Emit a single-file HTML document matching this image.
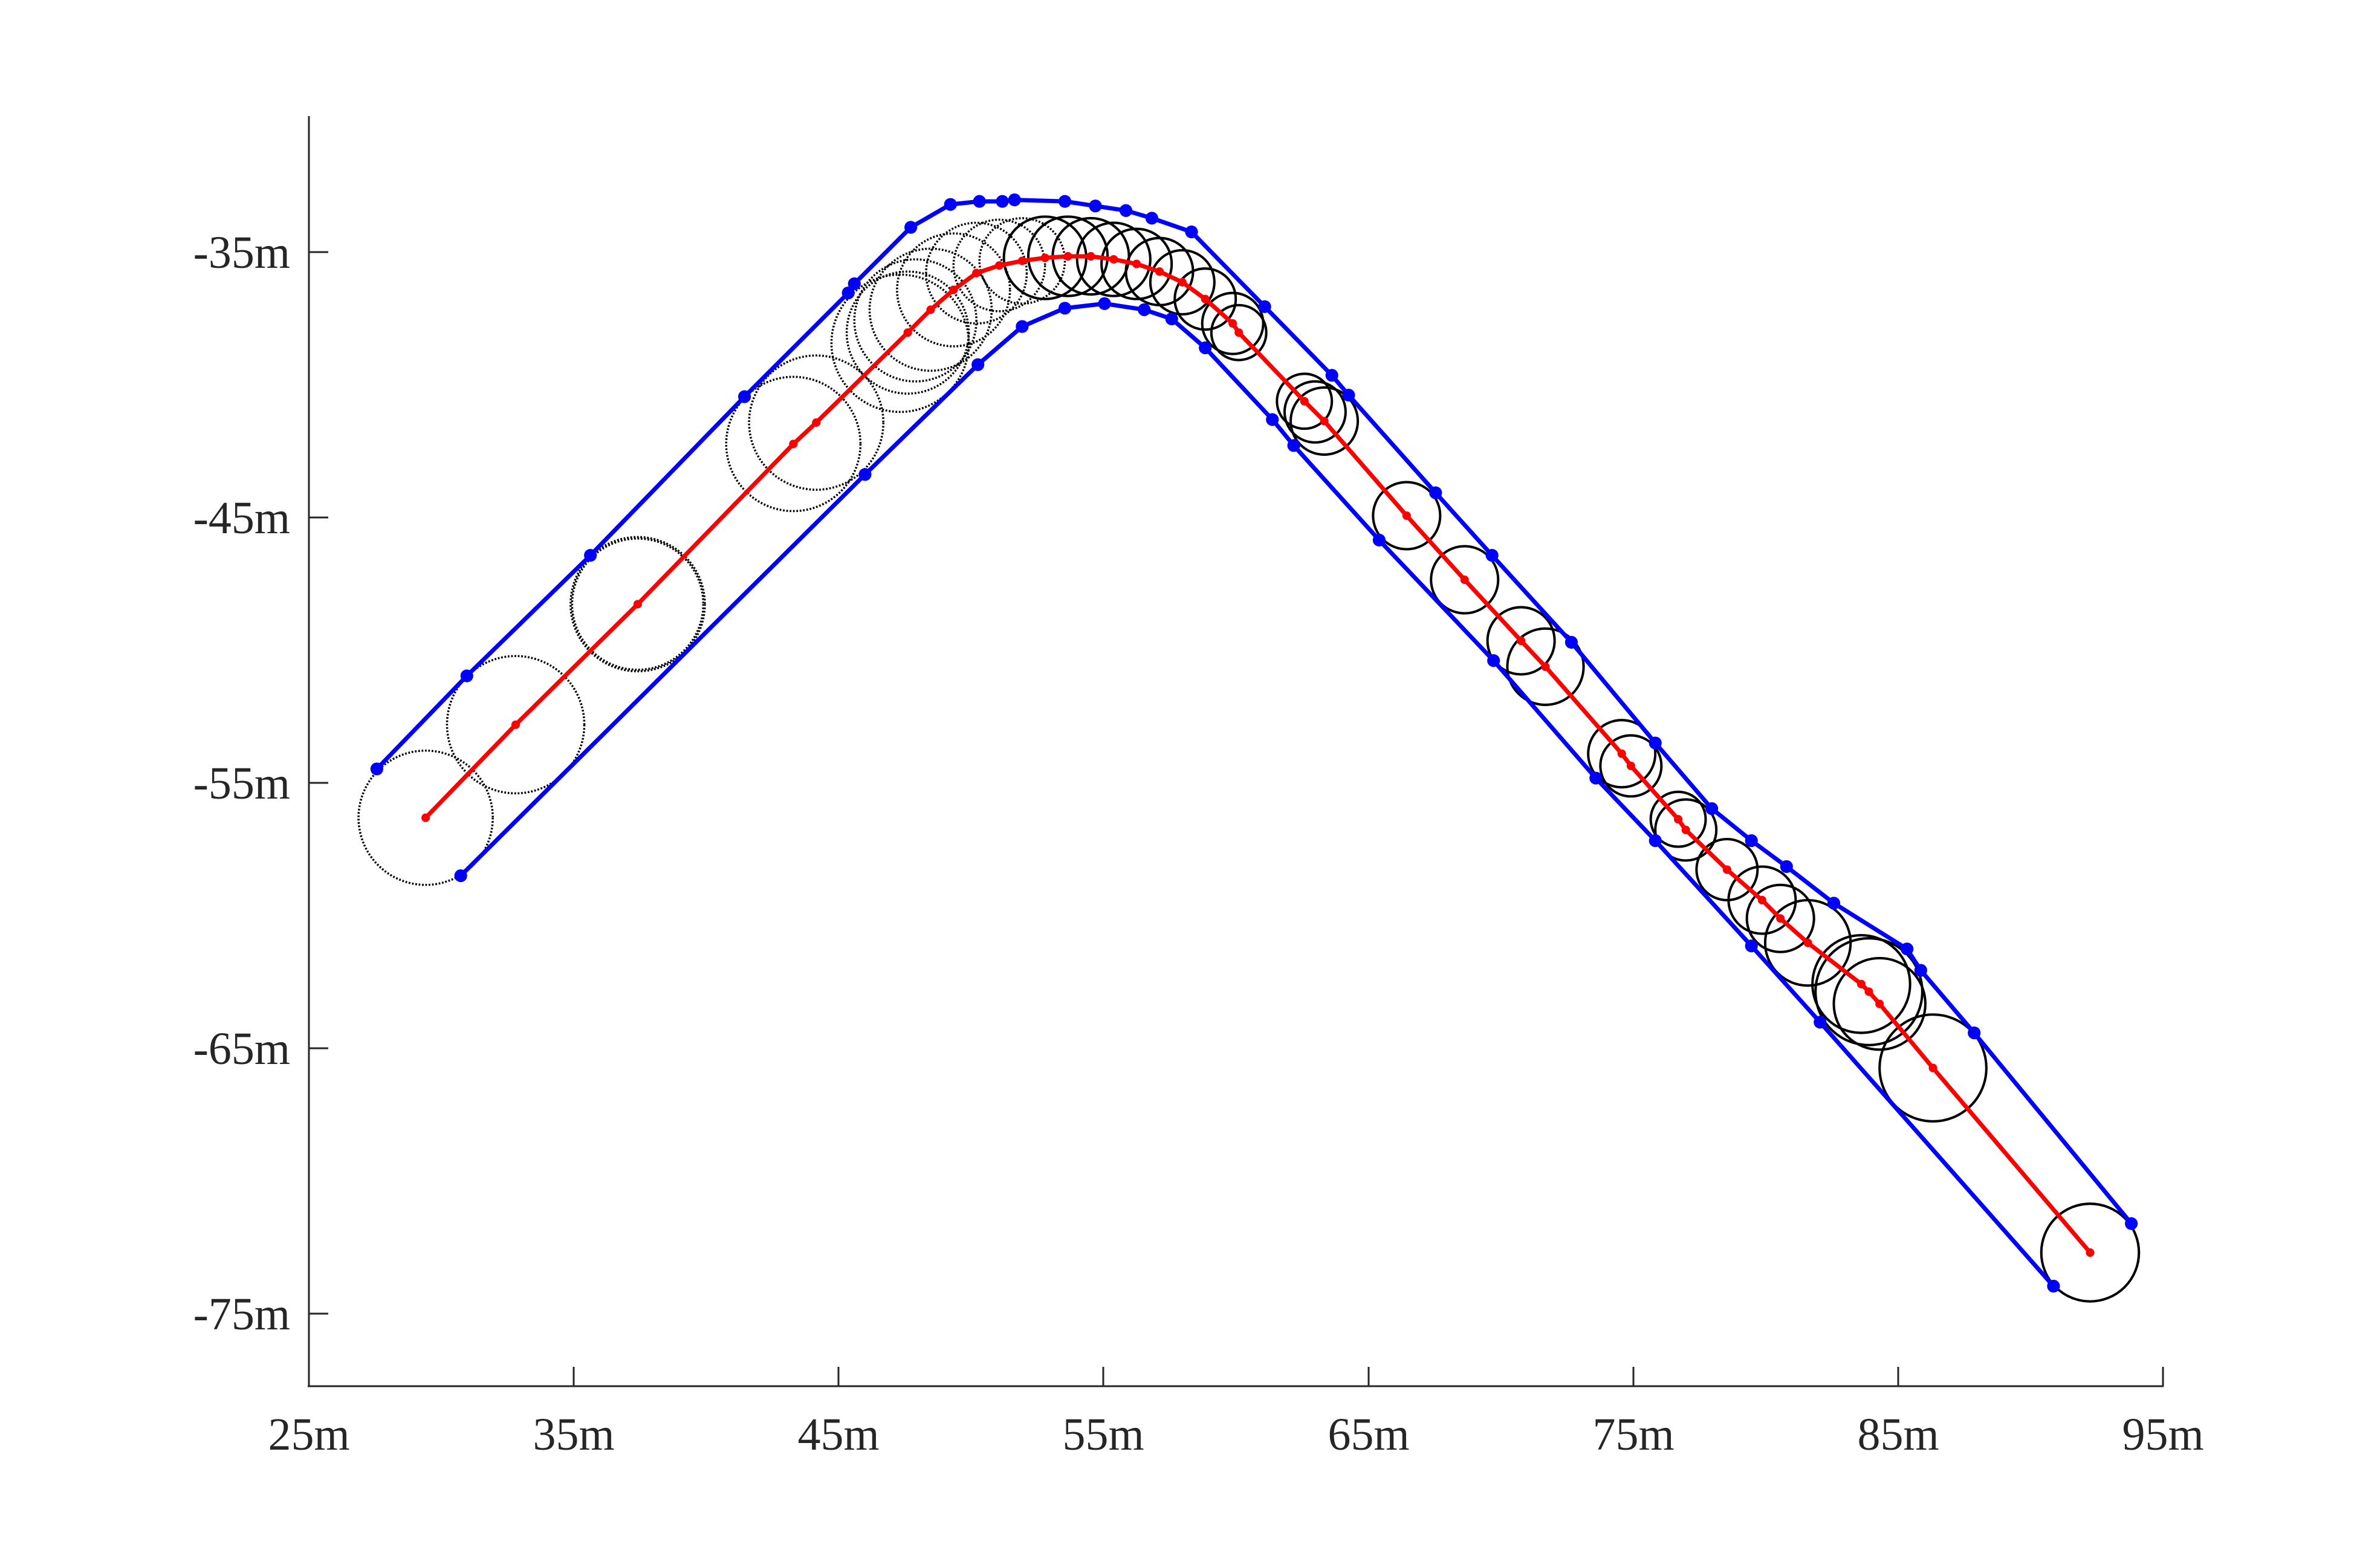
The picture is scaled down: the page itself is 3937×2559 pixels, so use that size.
<!DOCTYPE html>
<html><head><meta charset="utf-8"><style>
html,body{margin:0;padding:0;background:#fff;}
svg{display:block;}
text{font-family:"Liberation Serif",serif;fill:#262626;}
</style></head><body>
<svg width="3937" height="2559" viewBox="0 0 3937 2559" xmlns="http://www.w3.org/2000/svg">
<rect width="3937" height="2559" fill="#fff"/>
<g transform="scale(2.5237)">
<g fill="none" stroke="#000" stroke-width="1.4" stroke-dasharray="1.1 1.1">
<circle cx="279" cy="536" r="44"/><circle cx="338" cy="475" r="45"/><circle cx="418" cy="396" r="44"/><circle cx="418" cy="396" r="43"/>
<circle cx="520" cy="291" r="44"/><circle cx="535" cy="277" r="44"/><circle cx="590" cy="225" r="45"/>
<circle cx="595" cy="218" r="40"/><circle cx="600" cy="210" r="40"/><circle cx="610" cy="203" r="40"/>
<circle cx="625" cy="190" r="37"/><circle cx="640" cy="179" r="33"/><circle cx="655" cy="174" r="30"/>
<circle cx="670" cy="171" r="28"/>
</g>
<g fill="none" stroke="#000" stroke-width="1.6">
<circle cx="685" cy="169" r="27"/><circle cx="700" cy="168" r="26"/><circle cx="715" cy="168" r="25"/>
<circle cx="730" cy="170" r="24"/><circle cx="745" cy="173" r="23"/><circle cx="760" cy="178" r="22"/>
<circle cx="775" cy="185" r="21"/><circle cx="790" cy="196" r="20"/><circle cx="808" cy="212" r="20"/>
<circle cx="812" cy="218" r="18"/><circle cx="855" cy="263" r="18"/><circle cx="862" cy="270" r="20"/><circle cx="868" cy="276" r="22"/>
<circle cx="922" cy="338" r="22"/><circle cx="960" cy="380" r="22"/><circle cx="997" cy="420" r="22"/>
<circle cx="1013" cy="437" r="25"/><circle cx="1063" cy="494" r="22"/><circle cx="1069" cy="502" r="20"/>
<circle cx="1100" cy="537" r="18"/><circle cx="1105" cy="544" r="20"/><circle cx="1132" cy="570" r="20"/>
<circle cx="1155" cy="590" r="22"/><circle cx="1167" cy="602" r="22"/><circle cx="1185" cy="618" r="28"/>
<circle cx="1220" cy="645" r="32"/><circle cx="1225" cy="650" r="35"/><circle cx="1232" cy="658" r="30"/>
<circle cx="1267" cy="700" r="35"/><circle cx="1370" cy="821" r="32"/>
</g>
<g stroke="#0000ff" stroke-width="2.8" fill="none" stroke-linejoin="round">
<polyline points="247,504 306,443 387,364 488,260 556,192 560,186 597,149 623,134 642,132 657,132 665,131 698,132 718,135 738,138 755,143 781,152 829,201 873,246 884,259 941,323 978,364 1030,421 1085,487 1122,530 1148,551 1171,568 1202,592 1250,622 1259,636 1294,677 1397,802"/>
<polyline points="302,574 567,311 641,239 670,214 698,202 724,199 750,203 768,209 790,228 834,275 848,292 904,354 979,433 1046,510 1085,551 1148,620 1193,670 1346,843"/>
</g>
<g fill="#0000ff">
<circle cx="247" cy="504" r="4.2"/><circle cx="306" cy="443" r="4.2"/><circle cx="387" cy="364" r="4.2"/><circle cx="488" cy="260" r="4.2"/><circle cx="556" cy="192" r="4.2"/><circle cx="560" cy="186" r="4.2"/><circle cx="597" cy="149" r="4.2"/><circle cx="623" cy="134" r="4.2"/><circle cx="642" cy="132" r="4.2"/><circle cx="657" cy="132" r="4.2"/><circle cx="665" cy="131" r="4.2"/><circle cx="698" cy="132" r="4.2"/><circle cx="718" cy="135" r="4.2"/><circle cx="738" cy="138" r="4.2"/><circle cx="755" cy="143" r="4.2"/><circle cx="781" cy="152" r="4.2"/><circle cx="829" cy="201" r="4.2"/><circle cx="873" cy="246" r="4.2"/><circle cx="884" cy="259" r="4.2"/><circle cx="941" cy="323" r="4.2"/><circle cx="978" cy="364" r="4.2"/><circle cx="1030" cy="421" r="4.2"/><circle cx="1085" cy="487" r="4.2"/><circle cx="1122" cy="530" r="4.2"/><circle cx="1148" cy="551" r="4.2"/><circle cx="1171" cy="568" r="4.2"/><circle cx="1202" cy="592" r="4.2"/><circle cx="1250" cy="622" r="4.2"/><circle cx="1259" cy="636" r="4.2"/><circle cx="1294" cy="677" r="4.2"/><circle cx="1397" cy="802" r="4.2"/>
<circle cx="302" cy="574" r="4.2"/><circle cx="567" cy="311" r="4.2"/><circle cx="641" cy="239" r="4.2"/><circle cx="670" cy="214" r="4.2"/><circle cx="698" cy="202" r="4.2"/><circle cx="724" cy="199" r="4.2"/><circle cx="750" cy="203" r="4.2"/><circle cx="768" cy="209" r="4.2"/><circle cx="790" cy="228" r="4.2"/><circle cx="834" cy="275" r="4.2"/><circle cx="848" cy="292" r="4.2"/><circle cx="904" cy="354" r="4.2"/><circle cx="979" cy="433" r="4.2"/><circle cx="1046" cy="510" r="4.2"/><circle cx="1085" cy="551" r="4.2"/><circle cx="1148" cy="620" r="4.2"/><circle cx="1193" cy="670" r="4.2"/><circle cx="1346" cy="843" r="4.2"/>
</g>
<polyline fill="none" stroke="#ff0000" stroke-width="2.8" stroke-linejoin="round" points="279,536 338,475 418,396 520,291 535,277 595,218 610,203 625,190 640,179 655,174 670,171 685,169 700,168 715,168 730,170 745,173 760,178 775,185 790,196 808,212 812,218 855,263 868,276 922,338 960,380 997,420 1013,437 1063,494 1069,502 1100,537 1105,544 1132,570 1155,590 1167,602 1185,618 1220,645 1225,650 1232,658 1267,700 1370,821"/>
<g fill="#ff0000">
<circle cx="279" cy="536" r="2.8"/><circle cx="338" cy="475" r="2.8"/><circle cx="418" cy="396" r="2.8"/><circle cx="520" cy="291" r="2.8"/><circle cx="535" cy="277" r="2.8"/><circle cx="595" cy="218" r="2.8"/><circle cx="610" cy="203" r="2.8"/><circle cx="625" cy="190" r="2.8"/><circle cx="640" cy="179" r="2.8"/><circle cx="655" cy="174" r="2.8"/><circle cx="670" cy="171" r="2.8"/><circle cx="685" cy="169" r="2.8"/><circle cx="700" cy="168" r="2.8"/><circle cx="715" cy="168" r="2.8"/><circle cx="730" cy="170" r="2.8"/><circle cx="745" cy="173" r="2.8"/><circle cx="760" cy="178" r="2.8"/><circle cx="775" cy="185" r="2.8"/><circle cx="790" cy="196" r="2.8"/><circle cx="808" cy="212" r="2.8"/><circle cx="812" cy="218" r="2.8"/><circle cx="855" cy="263" r="2.8"/><circle cx="868" cy="276" r="2.8"/><circle cx="922" cy="338" r="2.8"/><circle cx="960" cy="380" r="2.8"/><circle cx="997" cy="420" r="2.8"/><circle cx="1013" cy="437" r="2.8"/><circle cx="1063" cy="494" r="2.8"/><circle cx="1069" cy="502" r="2.8"/><circle cx="1100" cy="537" r="2.8"/><circle cx="1105" cy="544" r="2.8"/><circle cx="1132" cy="570" r="2.8"/><circle cx="1155" cy="590" r="2.8"/><circle cx="1167" cy="602" r="2.8"/><circle cx="1185" cy="618" r="2.8"/><circle cx="1220" cy="645" r="2.8"/><circle cx="1225" cy="650" r="2.8"/><circle cx="1232" cy="658" r="2.8"/><circle cx="1267" cy="700" r="2.8"/><circle cx="1370" cy="821" r="2.8"/>
</g>
</g>
<g stroke="#262626" stroke-width="3" fill="none">
<line x1="511" y1="192" x2="511" y2="2294"/>
<line x1="509" y1="2293" x2="3579" y2="2293"/>
<line x1="949" y1="2293" x2="949" y2="2261"/><line x1="1387" y1="2293" x2="1387" y2="2261"/><line x1="1825" y1="2293" x2="1825" y2="2261"/><line x1="2264" y1="2293" x2="2264" y2="2261"/><line x1="2702" y1="2293" x2="2702" y2="2261"/><line x1="3140" y1="2293" x2="3140" y2="2261"/><line x1="3578" y1="2293" x2="3578" y2="2261"/>
<line x1="511" y1="417" x2="543" y2="417"/><line x1="511" y1="856" x2="543" y2="856"/><line x1="511" y1="1295" x2="543" y2="1295"/><line x1="511" y1="1734" x2="543" y2="1734"/><line x1="511" y1="2173" x2="543" y2="2173"/>
</g>
<g font-size="76" text-anchor="middle">
<text x="511" y="2398">25m</text><text x="949" y="2398">35m</text><text x="1387" y="2398">45m</text><text x="1825" y="2398">55m</text><text x="2264" y="2398">65m</text><text x="2702" y="2398">75m</text><text x="3140" y="2398">85m</text><text x="3578" y="2398">95m</text>
</g>
<g font-size="76" text-anchor="end">
<text x="480" y="443">-35m</text><text x="480" y="882">-45m</text><text x="480" y="1321">-55m</text><text x="480" y="1760">-65m</text><text x="480" y="2199">-75m</text>
</g>
</svg>
</body></html>
